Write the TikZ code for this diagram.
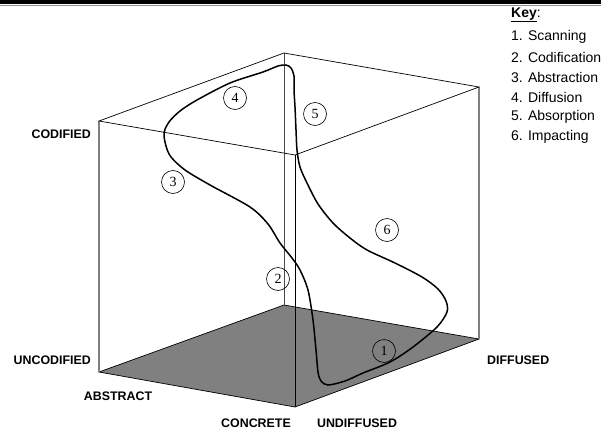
\documentclass[tikz,border=0pt]{standalone}
\usepackage{fontspec}
\setmainfont{Liberation Sans}
\newfontfamily\numfont{Liberation Serif}
\begin{document}
\begin{tikzpicture}[x=1pt,y=-1pt,
  axlabel/.style={font=\fontsize{12.4}{14}\selectfont\bfseries, inner sep=0pt},
  keytext/.style={font=\fontsize{14}{16}\selectfont, anchor=west, inner sep=0pt},
  numc/.style={circle, draw=black, line width=0.6pt, minimum size=23pt, inner sep=0pt, font=\numfont\fontsize{14}{14}\selectfont},
  edge/.style={line width=0.7pt, black},
  gedge/.style={line width=1.2pt, color=black!50},
  flow/.style={line width=1.5pt, black}]
\useasboundingbox (0,0) rectangle (601,433);
% top bar
\fill[black] (0,0) rectangle (601,4.5);
\draw[black!45, line width=0.8pt] (0,5.2) -- (601,5.2);
% cube vertices
\coordinate (TB) at (284,53);
\coordinate (TL) at (99,121);
\coordinate (TR) at (479,87);
\coordinate (TF) at (295,155);
\coordinate (BB) at (284,305);
\coordinate (BL) at (99,372);
\coordinate (BR) at (479,339);
\coordinate (BF) at (295,407);
% floor
\filldraw[fill=black!50, draw=black, line width=0.7pt] (BL) -- (BB) -- (BR) -- (BF) -- cycle;
% vertical edges
\draw[gedge] (TL) -- (BL);
\draw[gedge] (TR) -- (BR);
\draw[line width=0.8pt, black!70] (TB) -- (BB);
% top face
\draw[edge] (TL) -- (TB) -- (TR) -- (TF) -- cycle;
% front edge
\draw[edge] (TF) -- (BF);
% flow curve
\draw[flow] plot[smooth cycle, tension=0.5] coordinates {
 (318,372) (321,381) (328,385) (345,381) (363,373) (390,362) (413,347)
 (437,327) (447,312) (446,301) (438,289) (422,277) (395,263) (367,250)
 (350,238) (333,223) (318,204) (307,183) (300,167) (297,150) (296,130)
 (295,107) (294,90) (294,76) (291,68) (286,65) (278,66) (263,72)
 (230,83) (197,100) (180,111) (169,122) (164,133) (166,146) (171,157)
 (185,170) (210,185) (250,207) (268,224) (280,243) (292,258) (300,270)
 (308,290) (313,320) (316,350)};
% numbered circles
\node[numc] (c1) at (384,351) {1};
\node[numc] (c2) at (278,279) {2};
\node[numc] (c3) at (173,182) {3};
\node[numc] (c4) at (235,98) {4};
\node[numc] (c5) at (315,114) {5};
\node[numc] (c6) at (387,230) {6};
% axis labels
\node[axlabel, anchor=east] (codified) at (91,134) {CODIFIED};
\node[axlabel, anchor=east] (uncodified) at (91,360) {UNCODIFIED};
\node[axlabel] (abstract) at (118,396) {ABSTRACT};
\node[axlabel] (concrete) at (256,423) {CONCRETE};
\node[axlabel] (undiffused) at (357,423) {UNDIFFUSED};
\node[axlabel, anchor=west] (diffused) at (487,360) {DIFFUSED};
% key
\node[keytext] (key) at (511,15) {\underline{\textbf{Key}}:};
\node[keytext] (k1) at (511,37) {1. Scanning};
\node[keytext] (k2) at (511,57) {2. Codification};
\node[keytext] (k3) at (511,77) {3. Abstraction};
\node[keytext] (k4) at (511,97) {4. Diffusion};
\node[keytext] (k5) at (511,117) {5. Absorption};
\node[keytext] (k6) at (511,137) {6. Impacting};
\end{tikzpicture}
\end{document}
